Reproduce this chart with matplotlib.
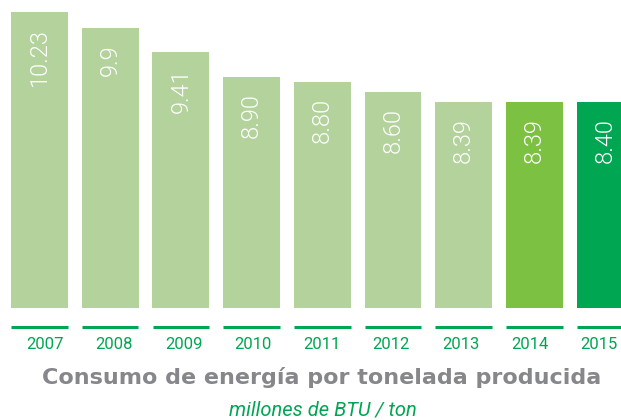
import matplotlib.pyplot as plt
import matplotlib.transforms as mtransforms

years = ['2007', '2008', '2009', '2010', '2011', '2012', '2013', '2014', '2015']
values = [10.23, 9.9, 9.41, 8.90, 8.80, 8.60, 8.39, 8.39, 8.40]
labels = ['10.23', '9.9', '9.41', '8.90', '8.80', '8.60', '8.39', '8.39', '8.40']
colors = ['#b3d29c'] * 7 + ['#7dc142', '#00a651']

title = 'Consumo de energía por tonelada producida'
subtitle = 'millones de BTU / ton'

plt.rcParams['font.family'] = ['Roboto', 'DejaVu Sans']

fig = plt.figure(figsize=(6.21, 4.20), dpi=100)
ax = fig.add_axes([0, 112 / 420, 1, 308 / 420])

xs = list(range(len(years)))
ax.bar(xs, values, width=0.806, color=colors)
ax.set_xlim(-0.559, 8.225)
ax.set_ylim(4.18, 10.48)
ax.axis('off')

for x, v, lab in zip(xs, values, labels):
    ax.annotate(lab, (x, v), xytext=(0, -11.5), textcoords='offset points',
                rotation=90, ha='center', va='top', color='white',
                fontsize=17, fontweight=300)

# green baseline segments and years below
trans = mtransforms.blended_transform_factory(ax.transData, ax.transAxes)
for i, (x, yr) in enumerate(zip(xs, years)):
    ax.plot([x - 0.4, x + 0.4], [-0.062, -0.062], color='#00a651', lw=2.2,
            transform=trans, clip_on=False, solid_capstyle='butt')
    ax.text(x + 0.078 - 0.0204 * i, -0.12, yr, transform=trans,
            ha='center', va='center', color='#00a651', fontsize=12)

fig.text(0.518, 0.100, title, ha='center', va='center', color='#86878a',
         fontsize=16, fontweight='bold', family='DejaVu Sans')
fig.text(0.52, 0.024, subtitle, ha='center', va='center', color='#00a651',
         fontsize=14.5, style='italic')

fig.savefig('out.png', dpi=100)
